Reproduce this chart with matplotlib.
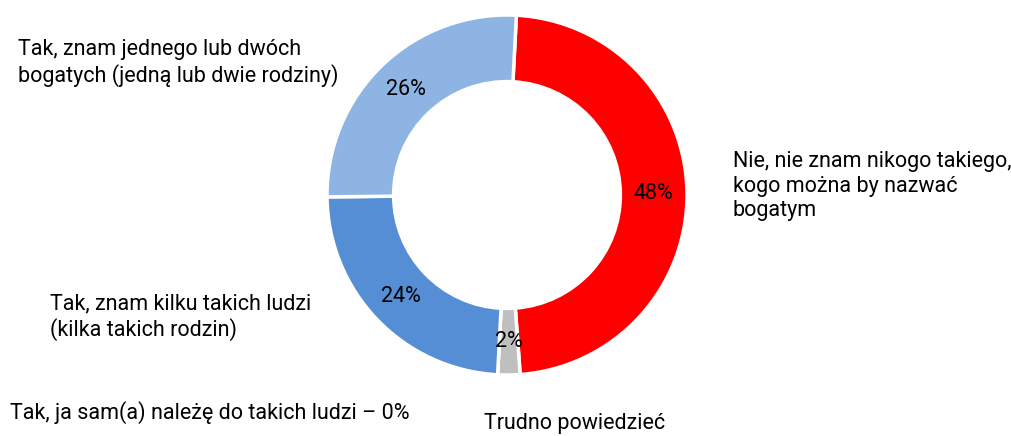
import matplotlib.pyplot as plt

# | Data |---------------------------------------------------------------------------------------------------------------|
categories = [
    "Nie, nie znam nikogo takiego,\nkogo można by nazwać\nbogatym",
    "Trudno powiedzieć",
    "Tak, ja sam(a) należę do takich ludzi – 0%",
    "Tak, znam kilku takich ludzi\n(kilka takich rodzin)",
    "Tak, znam jednego lub dwóch\nbogatych (jedną lub dwie rodziny)",
]
shares = [48, 2, 0, 24, 26]
colors = ["#FF0000", "#BFBFBF", "#1F3F6F", "#558ED5", "#8EB4E3"]

# label anchors in pixels (left edge, vertical centre of the block)
label_px = [(733, 186), (484, 423), (10, 413), (50, 317), (18, 63)]

# | Layout |-------------------------------------------------------------------------------------------------------------|
W, H, DPI = 1011, 436, 100
CX, CY, R = 507, 195, 180

plt.rcParams['font.family'] = ['Roboto', 'DejaVu Sans']

fig = plt.figure(figsize=(W / DPI, H / DPI), dpi=DPI)
ax = fig.add_axes([0, 0, 1, 1])


def pct(v):
    return f"{v:.0f}%" if v >= 0.5 else ""


wedges, texts, autotexts = ax.pie(
    shares, colors=colors, startangle=87, counterclock=False,
    radius=1.0, autopct=pct, pctdistance=0.815,
    wedgeprops=dict(width=0.37, edgecolor="white", linewidth=2.5),
    textprops=dict(fontsize=15.5, color="black"),
)

# pie() resets the limits, so map pixels to data afterwards
ax.set_xlim(-CX / R, (W - CX) / R)
ax.set_ylim(-(H - CY) / R, CY / R)
ax.set_aspect('equal')
ax.axis('off')

for (px, py), label in zip(label_px, categories):
    ax.text((px - CX) / R, (CY - py) / R, label, ha='left', va='center',
            fontsize=15.5, color="black", linespacing=1.2)

fig.savefig("out.png", dpi=DPI)
